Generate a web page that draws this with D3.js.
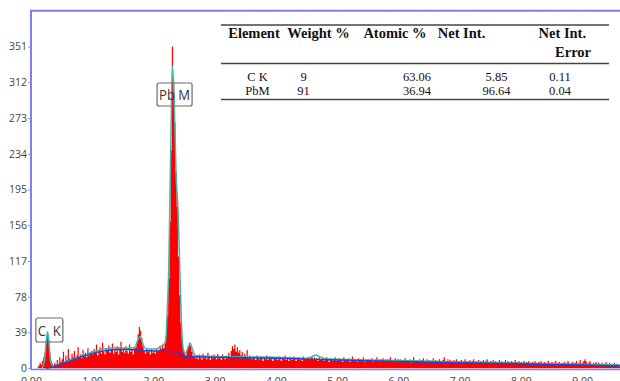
<!DOCTYPE html>
<html>
<head>
<meta charset="utf-8">
<script src="https://cdn.jsdelivr.net/npm/d3@7"></script>
<style>
  body { margin: 0; background: #fff; }
  svg { display: block; }
</style>
</head>
<body>
<svg id="chart" width="620" height="381"></svg>
<script>
// EDS spectrum, one value per 0.02 keV channel starting at 0.00 keV
const channelWidth = 0.02;
const counts = [
  0, 0, 0, 0, 0, 1, 3, 6, 4, 8, 12, 18, 28, 36, 31, 17, 8, 5, 3, 6, 4, 9, 5, 12, 7,
  10, 18, 6, 14, 9, 21, 11, 8, 16, 12, 19, 10, 14, 23, 12, 15, 11, 20, 13, 17, 12, 22, 14, 16, 19,
  15, 21, 17, 26, 14, 19, 23, 16, 28, 18, 15, 22, 19, 25, 17, 20, 27, 16, 21, 18, 24, 15, 22, 29, 18,
  20, 17, 24, 19, 16, 26, 18, 21, 15, 23, 22, 28, 37, 45, 41, 33, 24, 19, 16, 22, 18, 20, 15, 21, 17,
  19, 16, 22, 18, 20, 24, 21, 26, 22, 27, 36, 58, 98, 160, 238, 351, 312, 268, 214, 176, 122, 80, 50, 32, 22,
  17, 14, 19, 24, 28, 25, 18, 13, 16, 11, 14, 10, 15, 12, 9, 16, 11, 13, 10, 17, 12, 9, 14, 11, 15,
  12, 10, 16, 11, 13, 9, 15, 12, 10, 14, 11, 17, 13, 19, 24, 21, 26, 18, 23, 17, 20, 14, 18, 12, 16,
  13, 20, 11, 14, 12, 10, 13, 11, 9, 14, 12, 10, 13, 11, 8, 12, 10, 14, 9, 11, 13, 10, 8, 12, 10,
  11, 9, 13, 10, 8, 12, 10, 14, 9, 11, 8, 12, 10, 9, 13, 11, 8, 10, 12, 9, 11, 8, 13, 10, 9,
  10, 12, 9, 11, 13, 10, 12, 9, 11, 8, 12, 10, 9, 11, 8, 10, 12, 9, 7, 11, 9, 8, 10, 12, 8,
  9, 11, 8, 10, 7, 12, 9, 8, 10, 11, 7, 9, 13, 8, 10, 9, 7, 11, 8, 10, 9, 12, 7, 9, 8,
  10, 8, 9, 11, 7, 9, 8, 12, 9, 7, 10, 8, 11, 9, 7, 8, 10, 9, 12, 8, 7, 9, 11, 8, 10,
  8, 10, 7, 9, 8, 11, 7, 9, 8, 10, 6, 9, 12, 8, 7, 9, 8, 10, 7, 9, 11, 8, 7, 10, 8,
  9, 7, 8, 11, 7, 9, 8, 6, 10, 8, 7, 9, 12, 7, 8, 10, 7, 9, 8, 6, 9, 7, 10, 8, 7,
  8, 9, 6, 8, 10, 7, 8, 6, 9, 7, 8, 10, 6, 8, 7, 9, 6, 8, 7, 9, 6, 8, 10, 7, 6,
  8, 7, 9, 6, 8, 7, 5, 9, 7, 8, 6, 7, 9, 6, 8, 7, 5, 8, 7, 6, 9, 7, 6, 8, 5,
  7, 6, 8, 5, 7, 6, 8, 5, 6, 7, 5, 8, 6, 5, 7, 6, 8, 5, 6, 7, 5, 6, 8, 5, 6,
  7, 5, 6, 8, 5, 6, 7, 4, 6, 5, 7, 6, 5, 8, 6, 4, 6, 7, 5, 6, 8, 5, 6, 9, 5,
  6, 8, 10, 7, 5, 6, 8, 5, 4, 6, 5, 7, 4, 6, 5, 3, 6, 5, 4, 7, 5, 4, 6, 3, 5,
  4, 6, 3, 5, 4, 2, 5, 4, 3
];

// background model (blue)
const bgEnergy = [0.24, 0.3, 0.4, 0.5, 0.6, 0.8, 1.0, 1.2, 1.4, 1.6, 1.8, 2.0, 2.2, 2.38, 2.42, 2.47, 2.7, 3.0, 3.5, 4.0, 4.5, 5.0, 6.0, 7.0, 8.0, 9.0, 9.66];
const bgCounts = [0, 0.5, 2.5, 5, 7, 12, 16, 19, 20.5, 20.5, 19.5, 19, 18.5, 18, 17, 13, 12.5, 12, 11.5, 11, 10, 9, 7.5, 6, 5, 3.5, 2.5];

// fitted spectrum (cyan)
const fitEnergy = [0.18, 0.22, 0.25, 0.27, 0.29, 0.32, 0.36, 0.45, 0.6, 0.8, 1.0, 1.2, 1.4, 1.6, 1.7, 1.74, 1.78, 1.82, 1.86, 1.95, 2.05, 2.12, 2.16, 2.2, 2.22, 2.25, 2.28, 2.31, 2.34, 2.37, 2.4, 2.43, 2.46, 2.49, 2.52, 2.56, 2.6, 2.64, 2.68, 2.8, 3.0, 3.5, 4.0, 4.5, 4.58, 4.65, 4.72, 4.8, 5.0, 6.0, 7.0, 8.0, 9.0, 9.66];
const fitCounts = [0, 8, 30, 40, 30, 8, 2, 4, 8, 13, 17.5, 21, 22.5, 22, 23, 30, 35, 28, 22, 21, 21, 24, 25, 30, 55, 110, 230, 330, 290, 210, 175, 110, 45, 20, 16, 22, 27, 20, 14, 13.5, 13, 12.5, 12, 11, 12.5, 14.5, 12.5, 10.5, 10, 8.5, 7, 5.5, 4.5, 3.5];

const yTicks = [0, 39, 78, 117, 156, 195, 234, 273, 312, 351];
const xTicks = [0, 1, 2, 3, 4, 5, 6, 7, 8, 9];

const peakNames = ['C  K', 'Pb M'];
const peakEnergy = [0.30, 2.345];

const tableHeader = ['Element', 'Weight %', 'Atomic %', 'Net Int.', 'Net Int.'];
const tableElement = ['C K', 'PbM'];
const weightPct = ['9', '91'];
const atomicPct = ['63.06', '36.94'];
const netInt = ['5.85', '96.64'];
const netIntError = ['0.11', '0.04'];

const svg = d3.select('#chart');
const plotLeft = 31, plotRight = 620, plotTop = 10.8, plotBottom = 368.3;

const x = d3.scaleLinear().domain([0, 9.62]).range([plotLeft, plotRight]);
const y = d3.scaleLinear().domain([0, 390]).range([plotBottom, plotTop]);

svg.append('defs').append('clipPath').attr('id', 'plot')
  .append('rect').attr('x', plotLeft).attr('y', plotTop)
  .attr('width', plotRight - plotLeft).attr('height', plotBottom - plotTop + 1);

const plot = svg.append('g').attr('clip-path', 'url(#plot)');

// measured spectrum
const area = d3.area()
  .curve(d3.curveStepAfter)
  .x((d, i) => x(i * channelWidth))
  .y0(y(0))
  .y1(d => y(d));
plot.append('path')
  .datum(counts)
  .attr('fill', '#ff0000')
  .attr('d', area);

// fit
const fitLine = d3.line()
  .curve(d3.curveMonotoneX)
  .x((d, i) => x(fitEnergy[i]))
  .y(d => y(d));
plot.append('path')
  .datum(fitCounts)
  .attr('fill', 'none')
  .attr('stroke', '#3fb6b0')
  .attr('stroke-width', 1.5)
  .attr('d', fitLine);

// background
const bgLine = d3.line()
  .curve(d3.curveMonotoneX)
  .x((d, i) => x(bgEnergy[i]))
  .y(d => y(d));
plot.append('path')
  .datum(bgCounts)
  .attr('fill', 'none')
  .attr('stroke', '#2443cf')
  .attr('stroke-width', 1.5)
  .attr('d', bgLine);

// frame
const frameColor = '#7f7ff0';
svg.append('line').attr('x1', plotLeft).attr('x2', plotRight).attr('y1', plotTop).attr('y2', plotTop)
  .attr('stroke', frameColor).attr('stroke-width', 2);
svg.append('line').attr('x1', plotLeft).attr('x2', plotLeft).attr('y1', plotTop - 1).attr('y2', plotBottom + 1.5)
  .attr('stroke', frameColor).attr('stroke-width', 2);
svg.append('line').attr('x1', plotLeft).attr('x2', plotRight).attr('y1', plotBottom + 1.2).attr('y2', plotBottom + 1.2)
  .attr('stroke', frameColor).attr('stroke-width', 1.5);

// axes
const yAxis = svg.append('g')
  .attr('transform', `translate(${plotLeft - 1},0)`)
  .call(d3.axisLeft(y).tickValues(yTicks).tickSize(2).tickPadding(1));
yAxis.select('.domain').remove();
yAxis.selectAll('line').attr('stroke', '#999');
yAxis.selectAll('text')
  .attr('fill', '#444')
  .style('font-family', '"Open Sans", sans-serif')
  .style('font-size', '10.5px');

const xAxis = svg.append('g')
  .attr('transform', `translate(0,${plotBottom})`)
  .call(d3.axisBottom(x).tickValues(xTicks).tickSize(0).tickPadding(9).tickFormat(d3.format('.2f')));
xAxis.select('.domain').remove();
xAxis.selectAll('text')
  .attr('fill', '#444')
  .style('font-family', '"Open Sans", sans-serif')
  .style('font-size', '10.5px');

// peak labels
const labelBox = [{ w: 27, h: 24, top: 318 }, { w: 35, h: 23, top: 83 }];
peakNames.forEach((name, i) => {
  const cx = x(peakEnergy[i]);
  const b = labelBox[i];
  svg.append('rect')
    .attr('x', cx - b.w / 2).attr('y', b.top)
    .attr('width', b.w).attr('height', b.h)
    .attr('rx', 2)
    .attr('fill', 'none')
    .attr('stroke', '#6a6a6a')
    .attr('stroke-width', 1.2);
  svg.append('text')
    .attr('x', cx).attr('y', b.top + b.h / 2 + 5.5)
    .attr('text-anchor', 'middle')
    .attr('fill', '#333')
    .style('font-family', '"Open Sans", sans-serif')
    .style('font-size', '15px')
    .style('white-space', 'pre')
    .attr('textLength', b.w - 4)
    .attr('lengthAdjust', 'spacingAndGlyphs')
    .text(name);
});

// results table
const table = svg.append('g')
  .style('font-family', '"Liberation Serif", "Times New Roman", serif')
  .attr('fill', '#111');
const ruleX = [221, 609];
[25, 63.5, 99.5].forEach(ry => {
  table.append('line').attr('x1', ruleX[0]).attr('x2', ruleX[1]).attr('y1', ry).attr('y2', ry)
    .attr('stroke', '#444').attr('stroke-width', 1.3);
});
const headerX = [254, 318.5, 395, 461.5, 562.3];
tableHeader.forEach((h, i) => {
  table.append('text')
    .attr('x', headerX[i]).attr('y', 38)
    .attr('text-anchor', 'middle')
    .style('font-weight', 'bold')
    .style('font-size', '14.5px')
    .text(h);
});
table.append('text')
  .attr('x', 591).attr('y', 57)
  .attr('text-anchor', 'end')
  .style('font-weight', 'bold')
  .style('font-size', '14.5px')
  .text('Error');

const colX = [257.5, 303.5, 417, 496.5, 560];
const rowY = [80.5, 94.5];
const columns = [tableElement, weightPct, atomicPct, netInt, netIntError];
columns.forEach((col, c) => {
  col.forEach((v, r) => {
    table.append('text')
      .attr('x', colX[c]).attr('y', rowY[r])
      .attr('text-anchor', 'middle')
      .style('font-size', '12.5px')
      .text(v);
  });
});
</script>
</body>
</html>
